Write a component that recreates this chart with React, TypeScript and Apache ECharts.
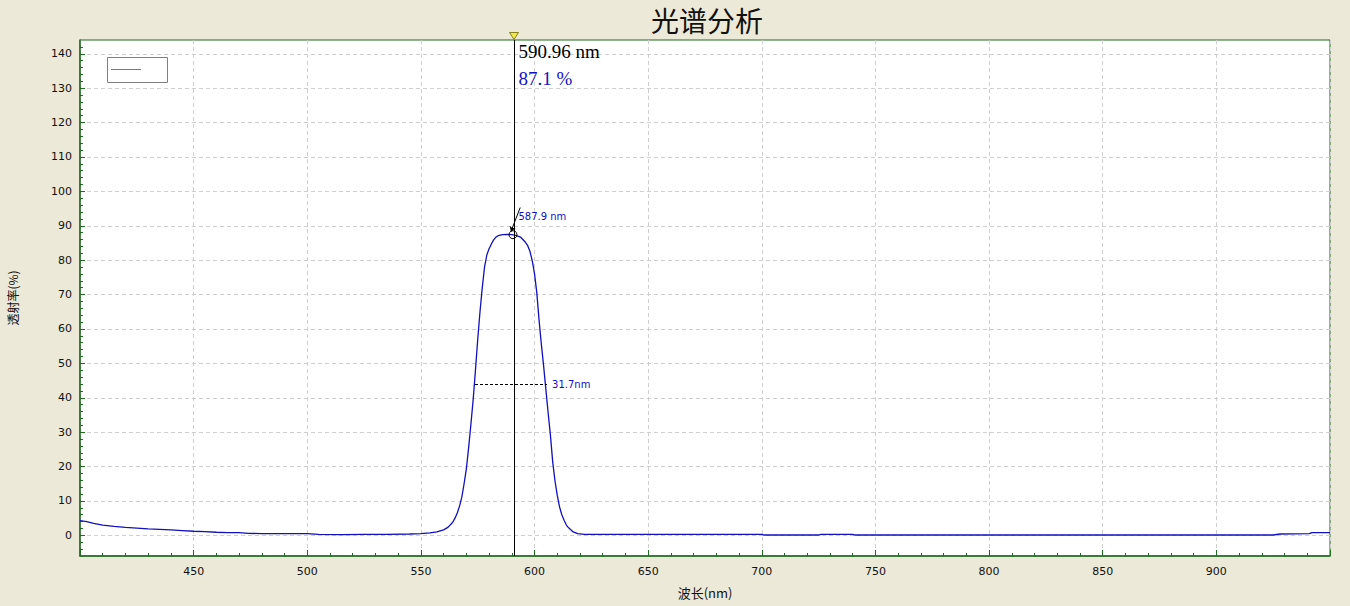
import React, { useEffect, useRef } from "react";
import * as echarts from "echarts";

// ---- data ----
const wavelengths = [
  400, 403, 406, 410, 415, 420, 425, 430, 440, 445, 450, 455, 460, 465, 470, 474, 480, 490, 500, 505,
  515, 525, 535, 545, 550, 554, 557, 560, 562, 564, 565, 566, 567, 568, 569, 570, 571, 572, 573, 574,
  575, 576, 577, 578, 579, 580, 581, 582, 583, 584, 586, 588, 590, 592, 593, 594, 596, 597, 598, 599,
  600, 601, 602, 603, 604, 605, 606, 607, 608, 609, 610, 611, 612, 613, 614, 615, 617, 619, 622, 650,
  700, 701, 725, 726, 740, 741, 900, 925, 928, 941, 942, 950,
];
const transmittance = [
  4.3, 4.0, 3.5, 3.0, 2.6, 2.3, 2.1, 1.9, 1.6, 1.4, 1.2, 1.1, 0.9, 0.8, 0.8, 0.6, 0.5, 0.5, 0.5, 0.3,
  0.2, 0.3, 0.3, 0.4, 0.5, 0.7, 1.0, 1.6, 2.4, 3.8, 5.0, 6.5, 8.5, 11.1, 15.0, 19.3, 25.5, 32.3, 39.5, 48.0,
  57.0, 65.0, 72.0, 78.0, 81.5, 83.3, 84.7, 85.9, 86.7, 87.1, 87.4, 87.5, 87.4, 87.1, 86.9, 86.6, 85.2, 84.2, 82.5, 79.8,
  76.0, 70.5, 62.5, 55.5, 49.2, 42.3, 35.5, 29.0, 21.3, 15.8, 11.6, 8.3, 6.0, 4.4, 3.0, 2.2, 1.0, 0.5, 0.3, 0.3,
  0.3, 0.1, 0.1, 0.3, 0.3, 0.1, 0.1, 0.1, 0.4, 0.5, 0.8, 0.8,
];

const yTickValues = [0, 10, 20, 30, 40, 50, 60, 70, 80, 90, 100, 110, 120, 130, 140];
const yMinorTickValues = [
  -4, -2, 2, 4, 6, 8, 12, 14, 16, 18, 22, 24, 26, 28, 32, 34, 36, 38, 42, 44, 46, 48, 52, 54, 56, 58,
  62, 64, 66, 68, 72, 74, 76, 78, 82, 84, 86, 88, 92, 94, 96, 98, 102, 104, 106, 108, 112, 114, 116, 118,
  122, 124, 126, 128, 132, 134, 136, 138, 142,
];

const cursorNm = 590.96;
const cursorValue = 87.1;
const peakMarkNm = 590.5;
const peakMarkValue = 87.4;
const peakLabel = "587.9 nm";
const halfLevel = 43.9;
const halfLeftNm = 573.8;
const halfRightNm = 605.5;
const fwhmLabel = "31.7nm";

const X_MIN = 400;
const X_MAX = 950;
const Y_MIN = -6;
const Y_MAX = 144;

const GREEN = "#1f6b1f";
const BLUE = "#1010c0";
const AXIS_FONT = "DejaVu Sans";

export default function App() {
  const ref = useRef<HTMLDivElement>(null);

  useEffect(() => {
    const chart = echarts.init(ref.current!, null, { renderer: "svg" });
    const data = wavelengths.map((w, i) => [w, transmittance[i]]);

    chart.setOption({
      animation: false,
      backgroundColor: "#ECE9D8",
      title: {
        text: "光谱分析",
        left: 646,
        top: 1,
        textStyle: {
          fontFamily: "Noto Sans CJK SC",
          fontSize: 28,
          fontWeight: "normal",
          color: "#111",
        },
      },
      grid: {
        left: 80,
        right: 20,
        top: 40,
        bottom: 50,
        show: true,
        backgroundColor: "#ffffff",
        borderColor: GREEN,
        borderWidth: 1,
        containLabel: false,
        outerBoundsMode: "none",
      },
      xAxis: {
        type: "value",
        min: X_MIN,
        max: X_MAX,
        interval: 50,
        name: "波长(nm)",
        nameLocation: "middle",
        nameGap: 30,
        nameTextStyle: { fontFamily: "Noto Sans CJK SC", fontSize: 13, color: "#111" },
        axisLine: { show: true, onZero: false, lineStyle: { color: GREEN, width: 1.5 } },
        axisTick: { show: true, inside: true, length: 6, lineStyle: { color: GREEN } },
        minorTick: { show: true, splitNumber: 5, length: 3, lineStyle: { color: GREEN } },
        axisLabel: {
          showMinLabel: false,
          showMaxLabel: false,
          margin: 10,
          fontFamily: AXIS_FONT,
          fontSize: 11,
          color: "#111",
        },
        splitLine: { show: true, lineStyle: { color: "#cfcfcf", type: [4, 3], width: 1 } },
      },
      yAxis: [
        {
          type: "value",
          min: Y_MIN,
          max: Y_MAX,
          name: "透射率(%)",
          nameLocation: "middle",
          nameGap: 62,
          nameTextStyle: { fontFamily: "Noto Sans CJK SC", fontSize: 12, color: "#111" },
          axisLine: { show: true, onZero: false, lineStyle: { color: GREEN, width: 1.5 } },
          axisTick: {
            show: true,
            inside: true,
            length: 5,
            customValues: yTickValues,
            lineStyle: { color: GREEN },
          },
          axisLabel: {
            customValues: yTickValues,
            margin: 8,
            fontFamily: AXIS_FONT,
            fontSize: 11,
            color: "#111",
          },
          splitLine: { show: true, lineStyle: { color: "#cfcfcf", type: [4, 3], width: 1 } },
        },
        {
          type: "value",
          min: Y_MIN,
          max: Y_MAX,
          position: "left",
          offset: 0,
          axisLine: { show: false, onZero: false },
          axisTick: {
            show: true,
            inside: true,
            length: 3,
            customValues: yMinorTickValues,
            lineStyle: { color: GREEN },
          },
          axisLabel: { show: false },
          splitLine: { show: false },
        },
      ],
      graphic: [
        {
          type: "rect",
          shape: { x: 107.5, y: 57.5, width: 60, height: 25 },
          style: { fill: "#ffffff", stroke: "#808080", lineWidth: 1 },
          z: 100,
        },
        {
          type: "line",
          shape: { x1: 111, y1: 69.5, x2: 141, y2: 69.5 },
          style: { stroke: "#6b6bd0", lineWidth: 1 },
          z: 101,
        },
      ],
      series: [
        {
          type: "line",
          data,
          yAxisIndex: 0,
          showSymbol: false,
          symbol: "none",
          lineStyle: { color: BLUE, width: 1.3 },
          markLine: {
            silent: true,
            symbol: "none",
            animation: false,
            data: [
              {
                xAxis: cursorNm,
                lineStyle: { color: "#000", width: 1, type: "solid" },
                label: { show: false },
              },
              [
                {
                  coord: [halfLeftNm, halfLevel],
                  lineStyle: { color: "#000", width: 1, type: [3, 2] },
                  label: {
                    show: true,
                    formatter: fwhmLabel,
                    position: "end",
                    distance: 5,
                    color: BLUE,
                    fontFamily: AXIS_FONT,
                    fontSize: 10,
                  },
                },
                { coord: [halfRightNm, halfLevel] },
              ],
              [
                {
                  coord: [peakMarkNm - 0.9, peakMarkValue + 0.9],
                  symbol: "arrow",
                  symbolSize: 5,
                  lineStyle: { color: "#000", width: 1, type: "solid" },
                  label: { show: false },
                },
                { coord: [peakMarkNm + 3.2, peakMarkValue + 7.9], symbol: "none" },
              ],
            ],
          },
          markPoint: {
            silent: true,
            animation: false,
            data: [
              {
                coord: [cursorNm, Y_MAX],
                symbol: "triangle",
                symbolRotate: 180,
                symbolSize: [9, 7],
                symbolOffset: [0, -4],
                itemStyle: { color: "#f2e84a", borderColor: "#6b6b00", borderWidth: 0.8 },
                label: { show: false },
              },
              {
                coord: [cursorNm, Y_MAX],
                symbol: "rect",
                symbolSize: 1,
                itemStyle: { color: "rgba(0,0,0,0)" },
                label: {
                  show: true,
                  formatter: cursorNm.toFixed(2) + " nm",
                  position: [5, 12],
                  align: "left",
                  verticalAlign: "middle",
                  fontFamily: "Liberation Serif",
                  fontSize: 19,
                  color: "#000",
                },
              },
              {
                coord: [cursorNm, Y_MAX],
                symbol: "rect",
                symbolSize: 1,
                itemStyle: { color: "rgba(0,0,0,0)" },
                label: {
                  show: true,
                  formatter: cursorValue.toFixed(1) + " %",
                  position: [5, 39],
                  align: "left",
                  verticalAlign: "middle",
                  fontFamily: "Liberation Serif",
                  fontSize: 19,
                  color: BLUE,
                },
              },
              {
                coord: [peakMarkNm, peakMarkValue],
                symbol: "circle",
                symbolSize: 8,
                itemStyle: { color: "rgba(0,0,0,0)", borderColor: "#000", borderWidth: 1 },
                label: {
                  show: true,
                  formatter: peakLabel,
                  position: [10, -14],
                  align: "left",
                  verticalAlign: "middle",
                  fontFamily: AXIS_FONT,
                  fontSize: 10,
                  color: BLUE,
                },
              },
            ],
          },
        },
      ],
    });

    return () => chart.dispose();
  }, []);

  return (
    <div
      ref={ref}
      style={{ position: "absolute", left: 0, top: 0, width: 1350, height: 606 }}
    />
  );
}
